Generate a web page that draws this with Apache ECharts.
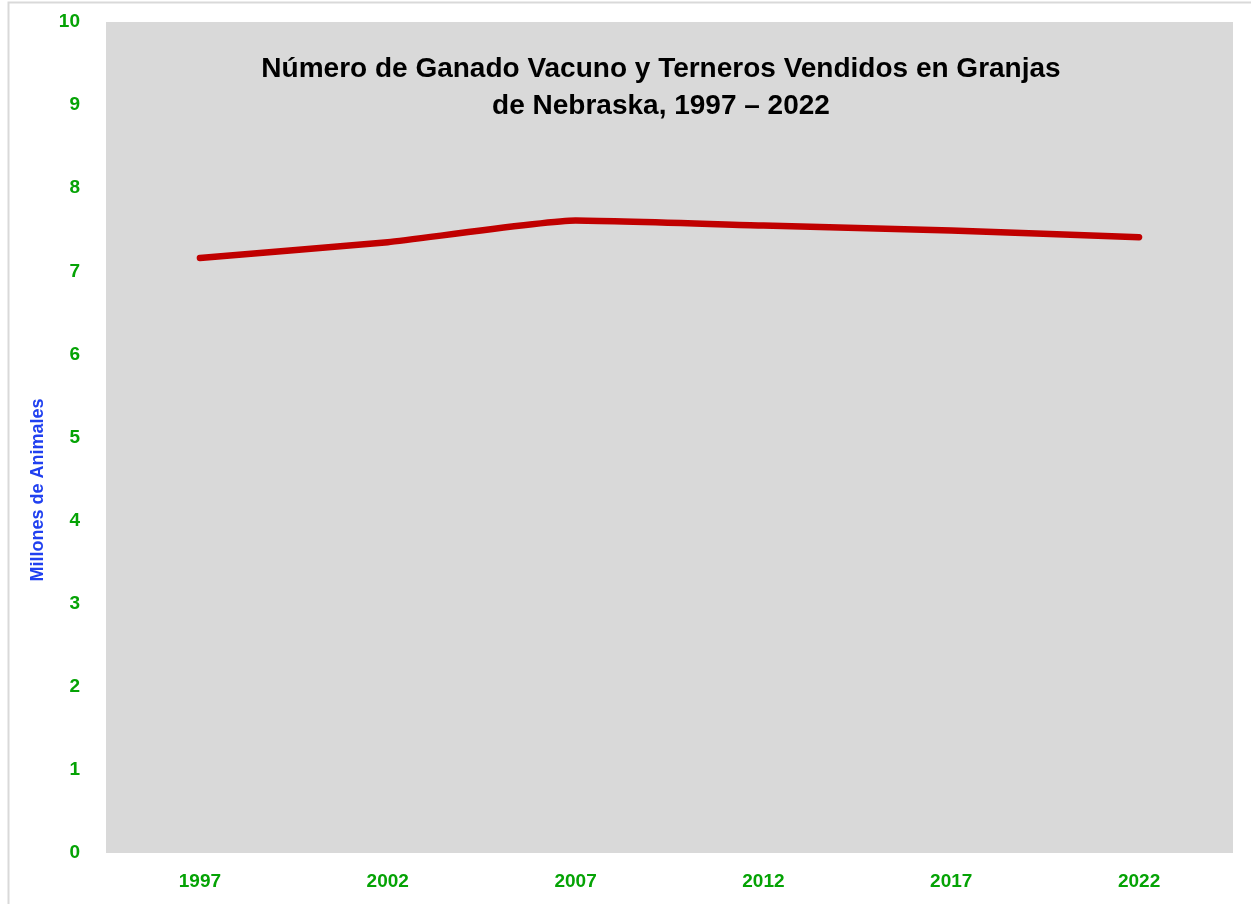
<!DOCTYPE html>
<html>
<head>
<meta charset="utf-8">
<script src="https://cdn.jsdelivr.net/npm/echarts@6/dist/echarts.min.js"></script>
<style>
  html, body { margin: 0; padding: 0; background: #fff; }
  #chart { width: 1251px; height: 904px; }
</style>
</head>
<body>
<div id="chart"></div>
<script>
// years sold and head count (millions)
var years = ['1997', '2002', '2007', '2012', '2017', '2022'];
var cattleSold = [7.16, 7.35, 7.61, 7.55, 7.49, 7.41];
var yTicks = [0, 1, 2, 3, 4, 5, 6, 7, 8, 9, 10];

var chart = echarts.init(document.getElementById('chart'), null, {renderer: 'canvas'});

var green = '#05A305';
var font = 'Liberation Sans';

chart.setOption({
  animation: false,
  backgroundColor: '#fff',
  title: {
    text: 'Número de Ganado Vacuno y Terneros Vendidos en Granjas\nde Nebraska, 1997 – 2022',
    left: 656,
    top: 46,
    textAlign: 'center',
    textStyle: {
      color: '#000',
      fontFamily: font,
      fontWeight: 'bold',
      fontSize: 28,
      lineHeight: 37
    }
  },
  graphic: [{
    type: 'rect',
    shape: {x: 8.5, y: 2.5, width: 1260, height: 920},
    style: {fill: 'none', stroke: '#d9d9d9', lineWidth: 2},
    silent: true
  }, {
    // axis title sits a bit below the middle of the axis in the original
    type: 'text',
    x: 38,
    y: 490,
    rotation: Math.PI / 2,
    style: {
      text: 'Millones de Animales',
      fill: '#2040F0',
      font: 'bold 18px "Liberation Sans"',
      textAlign: 'center',
      textVerticalAlign: 'middle'
    },
    silent: true
  }],
  grid: {
    left: 106,
    right: 18,
    top: 22,
    bottom: 51,
    show: true,
    backgroundColor: '#d9d9d9',
    borderWidth: 0
  },
  xAxis: {
    type: 'category',
    data: years,
    boundaryGap: true,
    axisLine: {show: false},
    axisTick: {show: false},
    axisLabel: {
      color: green,
      fontFamily: font,
      fontWeight: 'bold',
      fontSize: 19,
      margin: 19
    }
  },
  yAxis: {
    type: 'value',
    min: yTicks[0],
    max: yTicks[yTicks.length - 1],
    interval: 1,
    axisLine: {show: false},
    axisTick: {show: false},
    splitLine: {show: false},
    axisLabel: {
      color: green,
      fontFamily: font,
      fontWeight: 'bold',
      fontSize: 19,
      margin: 26
    }
  },
  series: [{
    type: 'line',
    data: cattleSold,
    smooth: 0.15,
    showSymbol: false,
    lineStyle: {color: '#C00000', width: 6.5, cap: 'round', join: 'round'}
  }]
});
</script>
</body>
</html>
